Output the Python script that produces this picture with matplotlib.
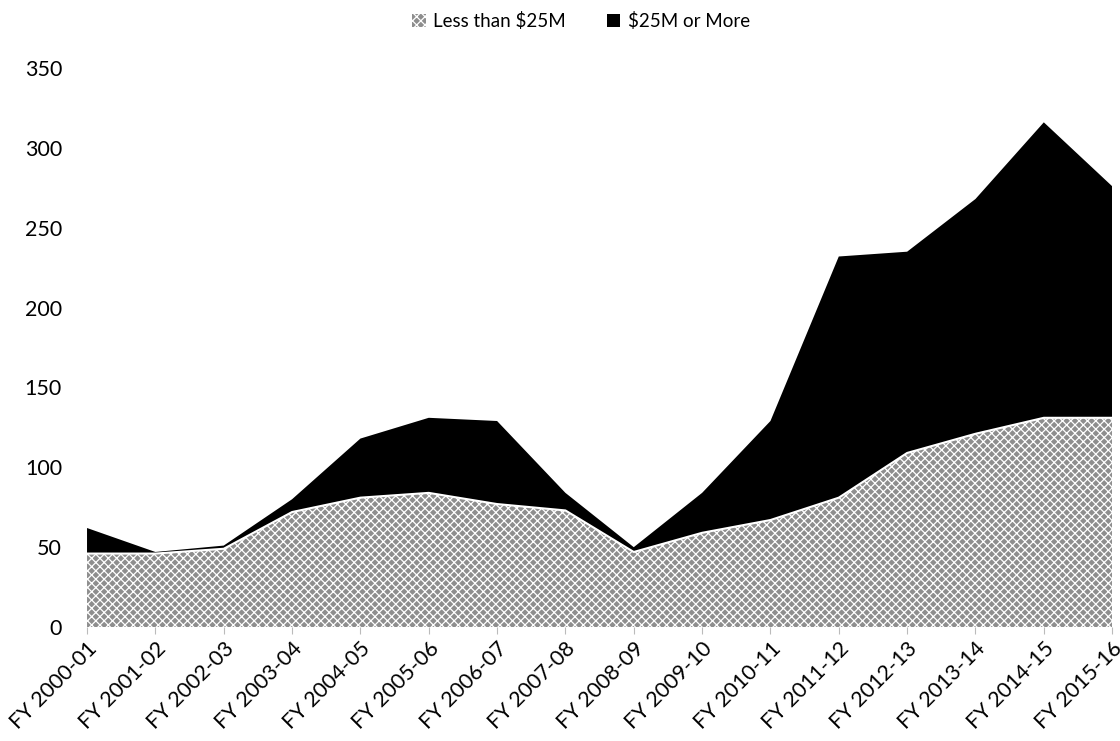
import matplotlib
matplotlib.use("Agg")
import matplotlib.pyplot as plt
import numpy as np

categories = ["FY 2000-01", "FY 2001-02", "FY 2002-03", "FY 2003-04", "FY 2004-05",
              "FY 2005-06", "FY 2006-07", "FY 2007-08", "FY 2008-09", "FY 2009-10",
              "FY 2010-11", "FY 2011-12", "FY 2012-13", "FY 2013-14", "FY 2014-15",
              "FY 2015-16"]
less_than_25m = [46, 46, 49, 72, 81, 84, 77, 73, 47, 59, 67, 81, 109, 121, 131, 131]
more_25m = [16, 1, 2, 8, 37, 47, 52, 11, 3, 25, 62, 151, 126, 147, 185, 145]
series_names = ["Less than $25M", "$25M or More"]
yticks = [0, 50, 100, 150, 200, 250, 300, 350]

plt.rcParams['font.family'] = ['Lato', 'DejaVu Sans']
plt.rcParams['hatch.linewidth'] = 0.9

fig = plt.figure(figsize=(11.2, 7.41), dpi=100)
ax = fig.add_axes([0.0777, 0.1538, 0.9153, 0.7544])

x = np.arange(len(categories))
polys = ax.stackplot(x, less_than_25m, more_25m, labels=series_names,
                     colors=['#8e8e8e', 'black'])
polys[0].set_hatch('xxxx')
polys[0].set_edgecolor('white')
polys[0].set_linewidth(0)
polys[1].set_linewidth(0)
ax.plot(x, less_than_25m, color='white', lw=1.5)

ax.set_xlim(0, len(categories) - 1)
ax.set_ylim(0, 350)
ax.set_yticks(yticks)
ax.set_yticklabels([str(v) for v in yticks], fontsize=15.5)
ax.tick_params(axis='y', length=0, pad=18)
ax.set_xticks(x)
ax.set_xticklabels(categories, rotation=45, ha='right', rotation_mode='anchor', fontsize=15.5)
ax.tick_params(axis='x', length=5, color='#bbbbbb', pad=3)
for s in ax.spines.values():
    s.set_visible(False)

leg = ax.legend(loc='upper center', bbox_to_anchor=(0.482, 1.13), ncol=2, frameon=False,
                fontsize=13.5, handlelength=0.7, handleheight=0.7, handletextpad=0.4,
                columnspacing=2.2)

fig.savefig("out.png", dpi=100)
